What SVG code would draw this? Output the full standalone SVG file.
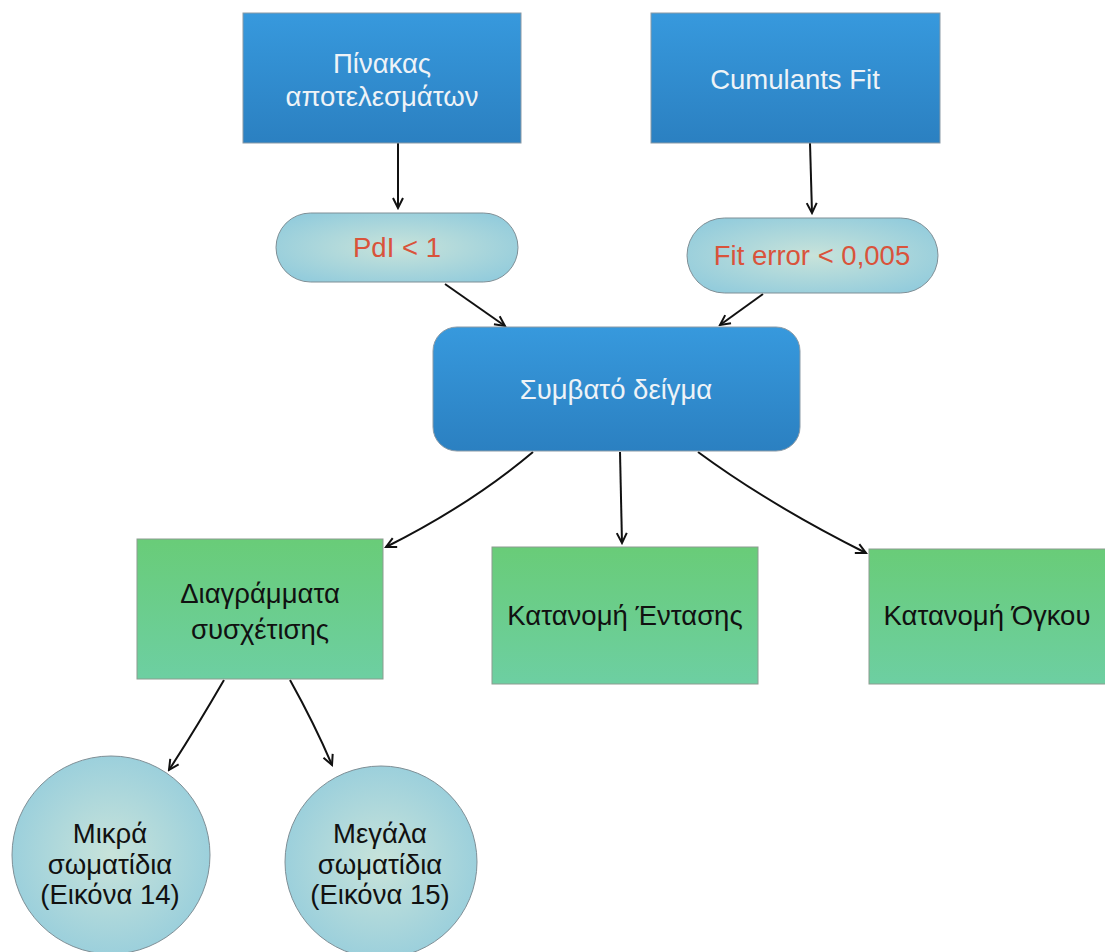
<svg xmlns="http://www.w3.org/2000/svg" width="1105" height="952" viewBox="0 0 1105 952">
  <style>
    .lbl { font-family: "Liberation Sans", Arial, sans-serif; font-size: 27.5px; text-anchor: middle; }
    .wht { fill: #eef3f7; }
    .red { fill: #d9533b; }
    .blk { fill: #111111; }
    .blue { fill: url(#gBlue); stroke: #8a9aa6; stroke-width: 1; }
    .green { fill: url(#gGreen); stroke: #8c9c90; stroke-width: 1; }
    .aqua { fill: url(#gAqua); stroke: #7f8f96; stroke-width: 1; }
    .conn { fill: none; stroke: #111111; stroke-width: 2; marker-end: url(#arrow); }
  </style>
  <defs>
    <linearGradient id="gBlue" x1="0" y1="0" x2="0" y2="1">
      <stop offset="0" stop-color="#3799dd"/>
      <stop offset="1" stop-color="#2b80c1"/>
    </linearGradient>
    <linearGradient id="gGreen" x1="0" y1="0" x2="0" y2="1">
      <stop offset="0" stop-color="#69cc78"/>
      <stop offset="1" stop-color="#6dcfa2"/>
    </linearGradient>
    <radialGradient id="gAqua" cx="0.5" cy="0.5" r="0.6">
      <stop offset="0" stop-color="#c8e3da"/>
      <stop offset="1" stop-color="#93ccdc"/>
    </radialGradient>
    <marker id="arrow" viewBox="0 0 14 14" refX="12" refY="7" markerWidth="14" markerHeight="14" markerUnits="userSpaceOnUse" orient="auto">
      <path d="M2,2 L12,7 L2,12" fill="none" stroke="#111111" stroke-width="2"/>
    </marker>
  </defs>

  <rect width="1105" height="952" fill="#ffffff"/>

  <!-- connectors -->
  <g id="connectors">
    <path class="conn" d="M398,143 L398,208"/>
    <path class="conn" d="M810,143 L812,213"/>
    <path class="conn" d="M445,284 L505,326"/>
    <path class="conn" d="M763,294 L720,325"/>
    <path class="conn" d="M533,452 Q470,505 386,547"/>
    <path class="conn" d="M620,452 L622,543"/>
    <path class="conn" d="M698,452 Q770,505 866,553"/>
    <path class="conn" d="M224,680 Q195,730 169,770"/>
    <path class="conn" d="M290,680 Q315,725 332,765"/>
  </g>

  <g id="node-results">
    <rect class="blue" x="243" y="13" width="278" height="130"/>
    <text class="lbl wht" x="382" y="73">Πίνακας</text>
    <text class="lbl wht" x="382" y="106">αποτελεσμάτων</text>
  </g>

  <g id="node-cumulants">
    <rect class="blue" x="651" y="13" width="289" height="130"/>
    <text class="lbl wht" x="795" y="89">Cumulants Fit</text>
  </g>

  <g id="node-pdi">
    <rect class="aqua" x="276" y="213" width="242" height="69" rx="34.5"/>
    <text class="lbl red" x="397" y="257">PdI &lt; 1</text>
  </g>

  <g id="node-fit-error">
    <rect class="aqua" x="687" y="218" width="251" height="75" rx="37.5"/>
    <text class="lbl red" x="812" y="265">Fit error &lt; 0,005</text>
  </g>

  <g id="node-sample">
    <rect class="blue" x="433" y="327" width="367" height="124" rx="24"/>
    <text class="lbl wht" x="616" y="399">Συμβατό δείγμα</text>
  </g>

  <g id="node-correlation">
    <rect class="green" x="137" y="539" width="246" height="140"/>
    <text class="lbl blk" x="260" y="603">Διαγράμματα</text>
    <text class="lbl blk" x="260" y="639">συσχέτισης</text>
  </g>

  <g id="node-intensity">
    <rect class="green" x="492" y="547" width="266" height="137"/>
    <text class="lbl blk" x="625" y="625">Κατανομή Έντασης</text>
  </g>

  <g id="node-volume">
    <rect class="green" x="869" y="549" width="240" height="135"/>
    <text class="lbl blk" x="987" y="625">Κατανομή Όγκου</text>
  </g>

  <g id="node-small">
    <circle class="aqua" cx="111" cy="855" r="99"/>
    <text class="lbl blk" x="110" y="843">Μικρά</text>
    <text class="lbl blk" x="110" y="874">σωματίδια</text>
    <text class="lbl blk" x="110" y="904">(Εικόνα 14)</text>
  </g>

  <g id="node-large">
    <circle class="aqua" cx="381" cy="862" r="96"/>
    <text class="lbl blk" x="380" y="843">Μεγάλα</text>
    <text class="lbl blk" x="380" y="874">σωματίδια</text>
    <text class="lbl blk" x="380" y="904">(Εικόνα 15)</text>
  </g>
</svg>
